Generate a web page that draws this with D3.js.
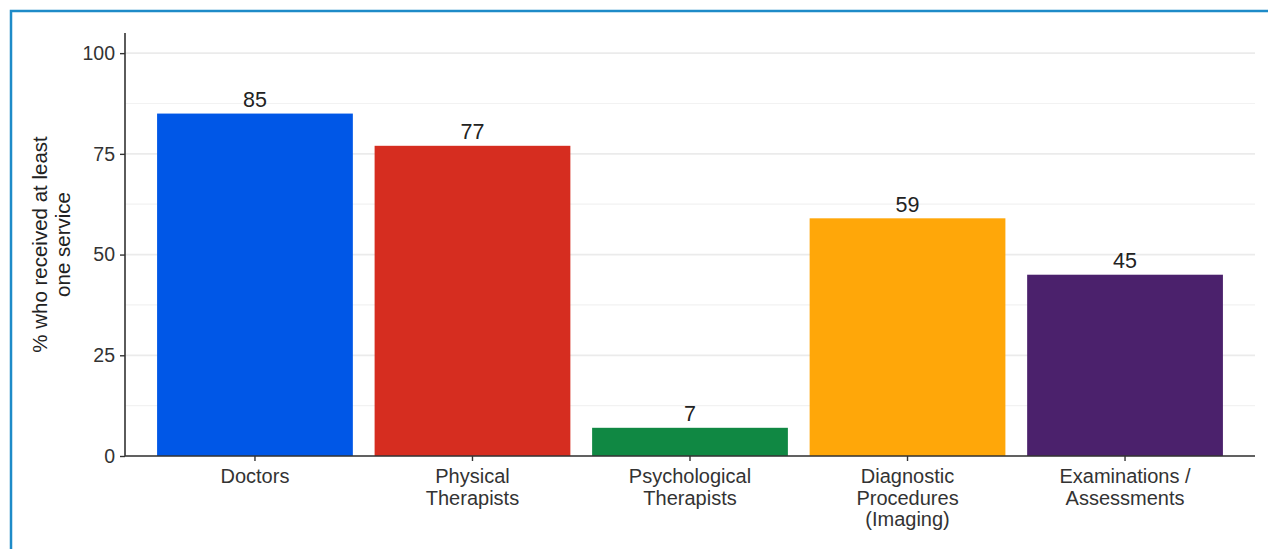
<!DOCTYPE html>
<html>
<head>
<meta charset="utf-8">
<script src="https://cdn.jsdelivr.net/npm/d3@7"></script>
<style>
  html, body { margin: 0; padding: 0; background: #fff; }
  svg { display: block; font-family: "Liberation Sans", Arial, sans-serif; }
</style>
</head>
<body>
<svg id="chart" width="1268" height="549"></svg>
<script>
// Share of patients who received at least one service, by provider type
const categories = [
  ["Doctors"],
  ["Physical", "Therapists"],
  ["Psychological", "Therapists"],
  ["Diagnostic", "Procedures", "(Imaging)"],
  ["Examinations /", "Assessments"]
];
const values = [85, 77, 7, 59, 45];
const barColors = ["#0057e7", "#d62d20", "#108843", "#ffa709", "#4b216c"];
const yTicks = [0, 25, 50, 75, 100];
const yMinor = [12.5, 37.5, 62.5, 87.5];
const yTitle = ["% who received at least", "one service"];

const svg = d3.select("#chart");
const W = 1268, H = 549;

// outer frame
svg.append("path")
  .attr("d", `M11,${H} L11,11 L${W},11`)
  .attr("fill", "none")
  .attr("stroke", "#1e8bc8")
  .attr("stroke-width", 2.5);

const plotL = 125, plotR = 1255, plotT = 33, plotB = 456;

const keys = categories.map((c, i) => i);
const x = d3.scaleBand()
  .domain(keys)
  .range([plotL, plotR])
  .paddingInner(0.1)
  .paddingOuter(0.1475);

const y = d3.scaleLinear().domain([0, 105]).range([plotB, plotT]);

// gridlines
const grid = svg.append("g");
grid.selectAll("line.minor").data(yMinor).join("line")
  .attr("class", "minor")
  .attr("x1", plotL).attr("x2", plotR)
  .attr("y1", d => y(d)).attr("y2", d => y(d))
  .attr("stroke", "#f2f2f2").attr("stroke-width", 1.2);
grid.selectAll("line.major").data(yTicks).join("line")
  .attr("class", "major")
  .attr("x1", plotL).attr("x2", plotR)
  .attr("y1", d => y(d)).attr("y2", d => y(d))
  .attr("stroke", "#ebebeb").attr("stroke-width", 1.8);

// bars
svg.append("g").selectAll("rect").data(values).join("rect")
  .attr("x", (d, i) => x(i))
  .attr("width", x.bandwidth())
  .attr("y", d => y(d))
  .attr("height", d => y(0) - y(d))
  .attr("fill", (d, i) => barColors[i]);

// value labels
svg.append("g").selectAll("text").data(values).join("text")
  .attr("x", (d, i) => x(i) + x.bandwidth() / 2)
  .attr("y", d => y(d) - 6.5)
  .attr("text-anchor", "middle")
  .attr("font-size", 21.5)
  .attr("fill", "#222")
  .text(d => d);

// y axis
const yAxis = svg.append("g")
  .attr("transform", `translate(${plotL},0)`)
  .call(d3.axisLeft(y).tickValues(yTicks).tickSize(5).tickPadding(5));
yAxis.select(".domain").attr("stroke", "#333").attr("stroke-width", 1.6)
  .attr("d", `M0,${plotT}V${plotB}`);
yAxis.selectAll(".tick line").attr("stroke", "#333").attr("stroke-width", 1.4);
yAxis.selectAll(".tick text")
  .attr("font-size", 19.5).attr("fill", "#333")
  .attr("font-family", "Liberation Sans, Arial, sans-serif");

// x axis
const xAxis = svg.append("g")
  .attr("transform", `translate(0,${plotB})`)
  .call(d3.axisBottom(x).tickSize(5).tickFormat(""));
xAxis.select(".domain").attr("stroke", "#333").attr("stroke-width", 1.6)
  .attr("d", `M${plotL},0H${plotR}`);
xAxis.selectAll(".tick line").attr("stroke", "#333").attr("stroke-width", 1.4);

// category labels (multi-line)
const xl = svg.append("g");
categories.forEach((lines, i) => {
  const cx = x(i) + x.bandwidth() / 2;
  const t = xl.append("text")
    .attr("x", cx)
    .attr("y", plotB + 27)
    .attr("text-anchor", "middle")
    .attr("font-size", 20)
    .attr("fill", "#333");
  lines.forEach((ln, j) => {
    t.append("tspan")
      .attr("x", cx)
      .attr("dy", j === 0 ? 0 : 21.5)
      .text(ln);
  });
});

// y axis title
const cy = (plotT + plotB) / 2;
const yt = svg.append("text")
  .attr("transform", `translate(47,${cy}) rotate(-90)`)
  .attr("text-anchor", "middle")
  .attr("font-size", 20.5)
  .attr("fill", "#222");
yTitle.forEach((ln, j) => {
  yt.append("tspan").attr("x", 0).attr("dy", j === 0 ? 0 : 23).text(ln);
});
</script>
</body>
</html>
